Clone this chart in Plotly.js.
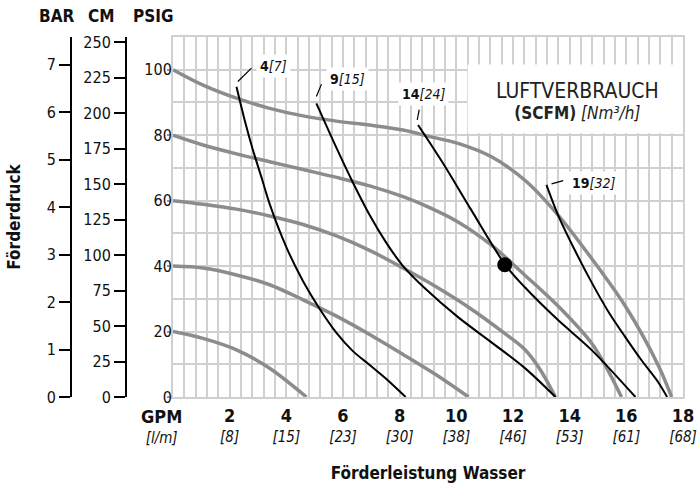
<!DOCTYPE html>
<html>
<head>
<meta charset="utf-8">
<script src="https://cdn.plot.ly/plotly-3.0.1.min.js"></script>
<style>html,body{margin:0;padding:0;background:#fff;}#chart{width:698px;height:483px;}</style>
</head>
<body>
<div id="chart"></div>
<script>
// ---- Pressure curves (gray), inlet air pressure in psig ----
const gpm100 = [0, 1.06, 2.24, 3.41, 4.59, 5.77, 6.94, 8.12, 9.0, 10.06, 11.24, 12.41, 13.59, 14.77, 15.94, 17.12, 17.6];
const psi100 = [100, 95.3, 91.3, 88.2, 85.9, 84.3, 83.1, 81.6, 79.7, 77.5, 73.4, 66.3, 55.6, 42.4, 28.1, 9.8, 0];
const gpm80 = [0, 1.06, 2.24, 3.41, 4.59, 5.77, 6.94, 8.12, 9.0, 10.06, 11.24, 12.41, 13.59, 14.77, 15.3, 15.83];
const psi80 = [80, 77.0, 74.3, 71.9, 69.5, 67.1, 64.5, 61.2, 58.1, 53.5, 46.4, 37.3, 27.8, 16.5, 9.0, 0];
const gpm60 = [0, 1.06, 2.24, 3.41, 4.59, 5.77, 6.94, 8.12, 9.3, 10.47, 11.65, 12.41, 12.95, 13.5];
const psi60 = [60, 58.9, 57.4, 55.3, 52.7, 49.2, 44.8, 39.4, 33.6, 27.2, 19.8, 14.6, 8.5, 0];
const gpm40 = [0, 1.06, 2.24, 3.41, 4.59, 5.77, 6.94, 8.12, 9.3, 10.43];
const psi40 = [40, 39.4, 37.3, 34.3, 29.7, 24.7, 19.1, 13.0, 6.7, 0];
const gpm20 = [0, 1.06, 2.24, 3.41, 4.71];
const psi20 = [20, 17.9, 14.4, 8.8, 0];

// ---- Air consumption curves (black), SCFM [Nm3/h] ----
const gpmS4 = [2.24, 2.53, 2.82, 3.13, 3.41, 4.0, 4.59, 5.18, 5.77, 6.34, 6.94, 7.53, 8.21];
const psiS4 = [94.8, 84.6, 75.5, 66.9, 59.0, 45.8, 35.4, 26.9, 19.6, 14.1, 9.8, 5.5, 0];
const gpmS9 = [5.06, 5.77, 6.34, 6.94, 7.53, 8.12, 8.88, 10.06, 11.24, 12.41, 13.5];
const psiS9 = [89.7, 76.1, 65.7, 55.6, 47.1, 40.0, 33.3, 24.4, 16.7, 8.9, 0];
const gpmS14 = [8.65, 9.59, 10.53, 11.71, 12.41, 13.59, 14.77, 16.32];
const psiS14 = [83.1, 70.6, 57.1, 40.6, 33.6, 23.5, 14.4, 0];
const gpmS19 = [13.18, 13.59, 14.18, 14.77, 15.35, 15.94, 16.53, 17.12, 17.44];
const psiS19 = [64.8, 55.6, 44.9, 35.1, 26.3, 18.6, 11.3, 4.6, 0];

// operating point
const dotGpm = [11.71];
const dotPsi = [40.4];

// curve labels
const scfmLabels = ['4', '9', '14', '19'];
const nm3Labels = ['7', '15', '24', '32'];

// tick labels
const gpmTicks = [2, 4, 6, 8, 10, 12, 14, 16, 18];
const lpmTicks = ['8', '15', '23', '30', '38', '46', '53', '61', '68'];
const psiTicks = [0, 20, 40, 60, 80, 100];
const barTicks = [0, 1, 2, 3, 4, 5, 6, 7];
const ftTicks = [0, 25, 50, 75, 100, 125, 150, 175, 200, 225, 250];

const FONT = '"Liberation Sans Narrow", "DejaVu Sans Condensed", "Arial Narrow", sans-serif';
const GRID = '#d0d0d0';
const GRAY = '#8c8c8c';

function grayTrace(x, y) {
  return {x: x, y: y, mode: 'lines', line: {color: GRAY, width: 3.5, shape: 'spline', smoothing: 0.9}, hoverinfo: 'skip'};
}
function blackTrace(x, y) {
  return {x: x, y: y, mode: 'lines', line: {color: '#000', width: 2, shape: 'spline', smoothing: 0.9}, hoverinfo: 'skip'};
}

const traces = [
  grayTrace(gpm100, psi100), grayTrace(gpm80, psi80), grayTrace(gpm60, psi60),
  grayTrace(gpm40, psi40), grayTrace(gpm20, psi20),
  blackTrace(gpmS4, psiS4), blackTrace(gpmS9, psiS9), blackTrace(gpmS14, psiS14), blackTrace(gpmS19, psiS19),
  {x: dotGpm, y: dotPsi, mode: 'markers', marker: {color: '#000', size: 15}, hoverinfo: 'skip'},
  {x: [null], y: [null], yaxis: 'y2', mode: 'lines', hoverinfo: 'skip'},
  {x: [null], y: [null], yaxis: 'y3', mode: 'lines', hoverinfo: 'skip'}
];

const PSI_PER_BAR = 14.5038;
const PSI_PER_FT = 0.4335;
const YMAX = 110;

const L = 30, R = 15, T = 37, B = 86, W = 698, H = 483;
const PW = W - L - R;
const px2paperX = p => (p - L) / PW;
const py2paperY = p => (H - B - p) / (H - T - B);
const py2psi = p => (H - B - p) / ((H - T - B) / YMAX);

const labelPos = [[2.94, 101.2], [5.41, 97.2], [7.95, 92.5], [13.95, 65.4]];
const leaders = [
  [2.29, 96.4, 2.77, 100.5],
  [5.06, 91.8, 5.24, 95.6],
  [8.62, 84.7, 8.69, 87.8],
  [13.36, 65.1, 13.77, 66.1]
];

const annotations = [];
scfmLabels.forEach((s, i) => {
  annotations.push({
    xref: 'x', yref: 'y', x: labelPos[i][0], y: labelPos[i][1], xanchor: 'left', yanchor: 'middle',
    text: '<b>' + s + '</b><i>[' + nm3Labels[i] + ']</i>', showarrow: false,
    font: {size: 14, color: '#111'}, bgcolor: '#fff', borderpad: 3
  });
});
// axis headers
[['BAR', 56], ['CM', 101], ['PSIG', 152.5]].forEach(h => {
  annotations.push({xref: 'paper', yref: 'paper', x: px2paperX(h[1]), y: py2paperY(16.5),
    xanchor: 'center', yanchor: 'middle', text: '<b>' + h[0] + '</b>', showarrow: false, font: {size: 17, color: '#111'}});
});
// GPM / l/m unit labels
annotations.push({xref: 'paper', yref: 'paper', x: px2paperX(161), y: py2paperY(426), xanchor: 'center', yanchor: 'middle',
  text: '<b><span style="font-size:18px">GPM</span></b><br><i>[l/m]</i>', showarrow: false,
  font: {size: 15, color: '#111'}});
// legend box text
annotations.push({xref: 'x', yref: 'y', x: 14.27, y: py2psi(100.5), xanchor: 'center', yanchor: 'middle',
  text: '<span style="font-size:21px">LUFTVERBRAUCH</span><br><span style="font-size:17px"><b>(SCFM)</b> <i>[Nm³/h]</i></span>',
  showarrow: false, align: 'center', font: {size: 16, color: '#222'}});

const shapes = [
  {type: 'rect', xref: 'x', yref: 'y', x0: 10.4, x1: 18, y0: 80.6, y1: 101.6, fillcolor: '#fff', line: {width: 0}, layer: 'between'}
];
leaders.forEach(l => shapes.push({type: 'line', xref: 'x', yref: 'y', x0: l[0], y0: l[1], x1: l[2], y1: l[3],
  line: {color: '#000', width: 1.2}, layer: 'above'}));

const sideAxis = (pos, range, tickvals) => ({
  overlaying: 'y', anchor: 'free', position: pos, side: 'left', range: range,
  tickmode: 'array', tickvals: tickvals, ticks: 'outside', ticklen: 11, tickwidth: 2, tickcolor: '#000',
  showline: true, linecolor: '#000', linewidth: 2, showgrid: false, zeroline: false,
  tickfont: {size: 16, color: '#111'}, fixedrange: true
});

const yaxis2 = sideAxis(px2paperX(71), [0, YMAX / PSI_PER_BAR], barTicks);
yaxis2.title = {text: '<b>Förderdruck</b>', font: {size: 17, color: '#111'}, standoff: 21};
const yaxis3 = sideAxis(px2paperX(126), [0, YMAX / PSI_PER_FT], ftTicks);

const layout = {
  width: W, height: H,
  margin: {l: L, r: R, t: T, b: B},
  paper_bgcolor: '#fff', plot_bgcolor: '#fff',
  showlegend: false,
  font: {family: FONT, size: 16, color: '#111'},
  xaxis: {
    domain: [px2paperX(173), 1], range: [0, 18],
    tickmode: 'array', tickvals: gpmTicks,
    ticktext: gpmTicks.map((g, i) => '<b><span style="font-size:18px">' + g + '</span></b><br><i>[' + lpmTicks[i] + ']</i>'),
    ticks: '', ticklabelstandoff: 5, showgrid: true, gridcolor: GRID, gridwidth: 2,
    minor: {tickmode: 'linear', tick0: 0, dtick: 0.4, showgrid: true, gridcolor: GRID, gridwidth: 2, ticks: ''},
    showline: true, mirror: true, linecolor: GRID, linewidth: 2, zeroline: false,
    tickfont: {size: 15, color: '#111'},
    title: {text: '<b>Förderleistung Wasser</b>', font: {size: 17, color: '#111'}, standoff: 24},
    fixedrange: true
  },
  yaxis: {
    range: [0, YMAX], tickmode: 'array', tickvals: psiTicks,
    ticks: 'outside', ticklen: 4, tickwidth: 2, tickcolor: '#999', ticklabelstandoff: -8,
    showgrid: true, gridcolor: GRID, gridwidth: 2,
    minor: {tickmode: 'linear', tick0: 0, dtick: 10, showgrid: true, gridcolor: GRID, gridwidth: 2, ticks: ''},
    showline: true, mirror: true, linecolor: GRID, linewidth: 2, zeroline: false,
    tickfont: {size: 16, color: '#111'}, fixedrange: true
  },
  yaxis2: yaxis2,
  yaxis3: yaxis3,
  annotations: annotations,
  shapes: shapes
};

Plotly.newPlot('chart', traces, layout, {staticPlot: true, displayModeBar: false});
</script>
</body>
</html>
